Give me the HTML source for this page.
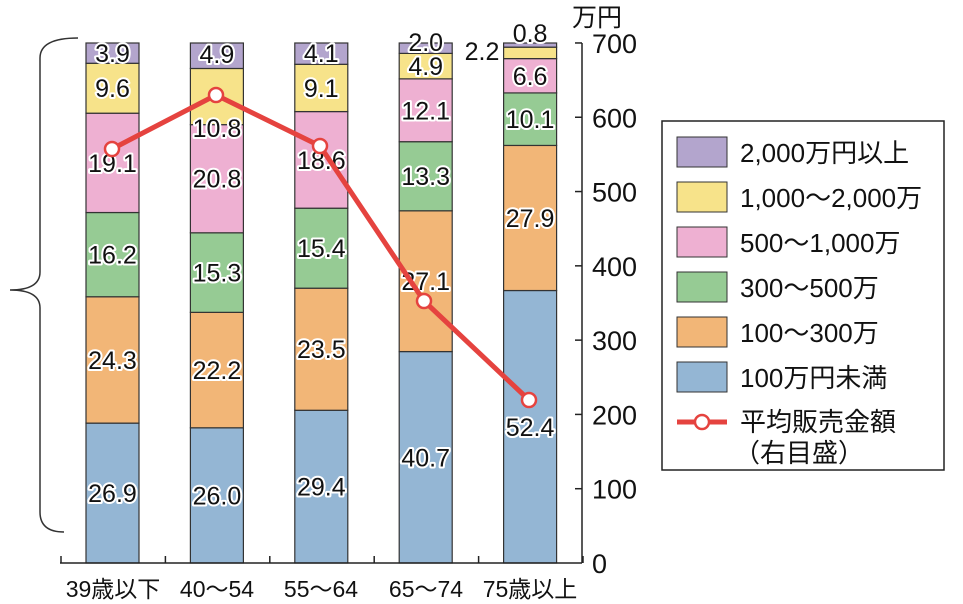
<!DOCTYPE html>
<html><head><meta charset="utf-8"><style>
html,body{margin:0;padding:0;background:#fff;}
svg{display:block;font-family:"Liberation Sans","Noto Sans CJK JP",sans-serif;}
.lb{font-size:25px;fill:#111;stroke:#fff;stroke-width:4px;paint-order:stroke;stroke-linejoin:round;text-anchor:middle;}
</style></head><body>
<svg id="s" width="963" height="604" viewBox="0 0 963 604" xmlns="http://www.w3.org/2000/svg">
<path d="M78 38 Q40 38 40 58 L40 272 Q40 290 10 290 Q40 290 40 308 L40 512 Q40 532 64 532" fill="none" stroke="#333" stroke-width="1.5"/>
<g id="bars"></g>
<line x1="60" y1="563" x2="582" y2="563" stroke="#222" stroke-width="1.5"/>
<line x1="582" y1="43" x2="582" y2="563" stroke="#222" stroke-width="1.5"/>
<g id="ax"></g>
<g font-size="23" fill="#111" text-anchor="middle">
<text x="113" y="597">39歳以下</text><text x="217" y="597">40～54</text><text x="321" y="597">55～64</text><text x="426" y="597">65～74</text><text x="530" y="597">75歳以上</text>
</g>
<text x="572" y="26" font-size="25" fill="#111">万円</text>
<polyline id="ln" points="112,149 216,95 320,146 424,301 529,400" fill="none" stroke="#e5433f" stroke-width="5"/>
<g id="pts" fill="#fff" stroke="#e5433f" stroke-width="2.5">
<circle cx="112" cy="149" r="7"/><circle cx="216" cy="95" r="7"/><circle cx="320" cy="146" r="7"/><circle cx="424" cy="301" r="7"/><circle cx="529" cy="400" r="7"/>
</g>
<rect x="662" y="121" width="282" height="349" fill="#fff" stroke="#222" stroke-width="1.5"/>
<g font-size="26" fill="#111">
<rect x="677" y="137" width="50" height="30" fill="#b3a5cd" stroke="#333"/><text x="740" y="162">2,000万円以上</text>
<rect x="677" y="182" width="50" height="30" fill="#f7e38a" stroke="#333"/><text x="740" y="207">1,000～2,000万</text>
<rect x="677" y="227" width="50" height="30" fill="#eeb0d2" stroke="#333"/><text x="740" y="252">500～1,000万</text>
<rect x="677" y="272" width="50" height="30" fill="#96cb94" stroke="#333"/><text x="740" y="297">300～500万</text>
<rect x="677" y="317" width="50" height="30" fill="#f2b677" stroke="#333"/><text x="740" y="342">100～300万</text>
<rect x="677" y="362" width="50" height="30" fill="#94b6d4" stroke="#333"/><text x="740" y="387">100万円未満</text>
<line x1="677" y1="422" x2="727" y2="422" stroke="#e5433f" stroke-width="5"/><circle cx="702" cy="422" r="7" fill="#fff" stroke="#e5433f" stroke-width="2.5"/>
<text x="740" y="431">平均販売金額</text><text x="734" y="462">（右目盛）</text>
</g>
</svg>
<script>
var NS="http://www.w3.org/2000/svg";
function el(p,t,a,txt){var e=document.createElementNS(NS,t);for(var k in a)e.setAttribute(k,a[k]);if(txt!=null)e.textContent=txt;p.appendChild(e);return e;}
var cols=["#94b6d4","#f2b677","#96cb94","#eeb0d2","#f7e38a","#b3a5cd"];
var data=[[26.9,24.3,16.2,19.1,9.6,3.9],[26.0,22.2,15.3,20.8,10.8,4.9],[29.4,23.5,15.4,18.6,9.1,4.1],[40.7,27.1,13.3,12.1,4.9,2.0],[52.4,27.9,10.1,6.6,2.2,0.8]];
var g=document.getElementById("bars");
var labels=[];
data.forEach(function(d,i){
 var x=86+i*104.4,w=53,tot=d.reduce(function(a,b){return a+b},0),sc=520/tot,y=563;
 d.forEach(function(v,j){
  var h=v*sc;y-=h;
  el(g,"rect",{x:x,y:y,width:w,height:h,fill:cols[j],stroke:"#333","stroke-width":1.2});
  var cx=x+w/2,cy=y+h/2+9;
  if(i==4&&j==4){cx=482;cy=60;}
  if(i==4&&j==5){cy=42;}
  if(i==3&&j==5){cy=51;}
  if(i==1&&j==4){cy=137;}
  if(i==0&&j==5){cy=62;}
  if(i==2&&j==5){cy=62;}
  if(i==1&&j==5){cy=63;}
  labels.push([cx,cy,v.toFixed(1)]);
 });
});
labels.forEach(function(l){el(g,"text",{x:l[0],y:l[1],"class":"lb"},l[2]);});
var a=document.getElementById("ax");
for(var k=0;k<=7;k++){var yy=563-k*74.29;
 if(k>0)el(a,"line",{x1:575,y1:yy,x2:582,y2:yy,stroke:"#222","stroke-width":1.5});
 el(a,"text",{x:592,y:yy+10,"font-size":27,fill:"#111"},String(k*100));}
for(var k=0;k<6;k++){var xx=61+k*104.4;el(a,"line",{x1:xx,y1:556,x2:xx,y2:563,stroke:"#222","stroke-width":1.5});}
</script>
</body></html>
